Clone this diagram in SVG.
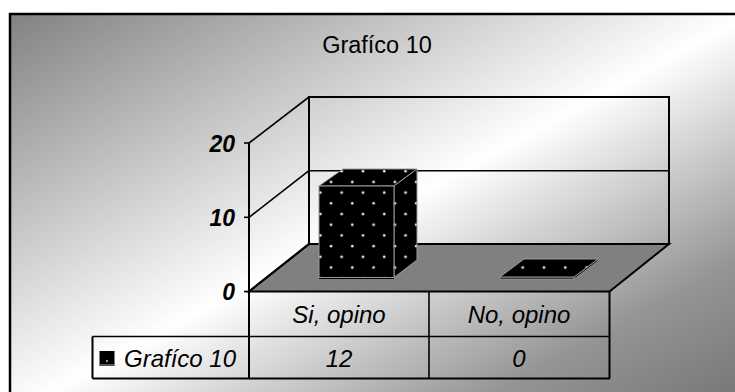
<svg xmlns="http://www.w3.org/2000/svg" width="735" height="392" viewBox="0 0 735 392">
  <defs>
    <linearGradient id="bg" x1="0" y1="0" x2="1" y2="1">
      <stop offset="0" stop-color="#828282"/>
      <stop offset="0.5" stop-color="#ffffff"/>
      <stop offset="0.8" stop-color="#959595"/>
      <stop offset="1" stop-color="#727272"/>
    </linearGradient>
    <pattern id="dots" patternUnits="userSpaceOnUse" x="326" y="198.3" width="21.3" height="21.4">
      <rect width="21.3" height="21.4" fill="#000"/>
      <circle cx="5" cy="5" r="1.3" fill="#e8e8e8"/>
      <circle cx="15.65" cy="15.7" r="1.3" fill="#e8e8e8"/>
    </pattern>
    <style>
      .ln{stroke:#000;stroke-width:2;fill:none}
      .thin{stroke:#000;stroke-width:1.6;fill:none}
      .bar{fill:url(#dots);stroke:#9a9a9a;stroke-width:1}
      .ax{font-family:"Liberation Sans",Arial,sans-serif;font-size:23px;font-weight:bold;font-style:italic;fill:#000;text-anchor:end}
      .tb{font-family:"Liberation Sans",Arial,sans-serif;font-size:24px;font-style:italic;fill:#000;text-anchor:middle}
      .lg{font-family:"Liberation Sans",Arial,sans-serif;font-size:24px;font-style:italic;fill:#000;text-anchor:start}
      .title{font-family:"Liberation Sans",Arial,sans-serif;font-size:23.5px;fill:#000;text-anchor:middle}
    </style>
  </defs>
  <rect x="0" y="0" width="735" height="392" fill="#fff"/>
  <rect id="frame" x="10" y="14" width="740" height="400" fill="url(#bg)" stroke="#000" stroke-width="2.5"/>
  <g id="title"><text class="title" x="377" y="52.5">Grafíco 10</text></g>

  <g id="walls">
    <rect x="309" y="97" width="360" height="147" class="ln"/>
    <line x1="309" y1="170.7" x2="669" y2="170.7" class="thin"/>
    <line x1="249" y1="143" x2="309" y2="97" class="thin"/>
    <line x1="249" y1="217.3" x2="309" y2="170.7" class="thin"/>
  </g>
  <g id="floor">
    <polygon points="249,291.5 609.5,291.5 669,244 309,244" fill="#808080" stroke="#000" stroke-width="2"/>
  </g>

  <g id="bar-si">
    <polygon class="bar" points="319,186 343,169 417,169 394,186"/>
    <polygon class="bar" points="394,186 417,169 417,260 394,277.5"/>
    <rect class="bar" x="319" y="186" width="75" height="91.5"/>
    <line x1="319" y1="278.5" x2="394" y2="278.5" stroke="#000" stroke-width="1"/>
  </g>
  <g id="bar-no">
    <polygon points="500,277 574,277 574,279 500,279" fill="#000" stroke="#9a9a9a" stroke-width="0.8"/>
    <polygon points="574,277 598,259 598,261 574,279" fill="#000" stroke="#9a9a9a" stroke-width="0.8"/>
    <polygon class="bar" points="500,277 574,277 598,259 524,259"/>
  </g>

  <g id="axis">
    <line x1="249" y1="143" x2="249" y2="291.5" class="ln"/>
    <line x1="244" y1="143" x2="249" y2="143" class="thin"/>
    <line x1="244" y1="217.3" x2="249" y2="217.3" class="thin"/>
    <line x1="244" y1="291.5" x2="249" y2="291.5" class="thin"/>
    <line x1="249" y1="291.5" x2="309" y2="244" class="ln"/>
    <text class="ax" x="235" y="151.5">20</text>
    <text class="ax" x="235" y="225.5">10</text>
    <text class="ax" x="235" y="299.5">0</text>
  </g>

  <g id="table">
    <line x1="92.5" y1="336.5" x2="610" y2="336.5" class="thin"/>
    <line x1="92.5" y1="378.5" x2="610" y2="378.5" class="ln"/>
    <line x1="92.5" y1="336.5" x2="92.5" y2="378.5" class="ln"/>
    <line x1="249" y1="291.5" x2="249" y2="378.5" class="ln"/>
    <line x1="429" y1="291.5" x2="429" y2="378.5" class="thin"/>
    <line x1="609.5" y1="291.5" x2="609.5" y2="378.5" class="ln"/>
    <text class="tb" x="339" y="322.5">Si, opino</text>
    <text class="tb" x="519" y="322.5">No, opino</text>
    <text class="tb" x="339" y="367">12</text>
    <text class="tb" x="519" y="367">0</text>
    <g id="legend-key">
      <rect x="99.5" y="351" width="15" height="15" fill="#000"/>
      <line x1="100" y1="365" x2="114" y2="365" stroke="#aaa" stroke-width="1"/>
      <circle cx="107" cy="361" r="0.9" fill="#ddd"/>
    </g>
    <text class="lg" x="124" y="367">Grafíco 10</text>
  </g>
</svg>
